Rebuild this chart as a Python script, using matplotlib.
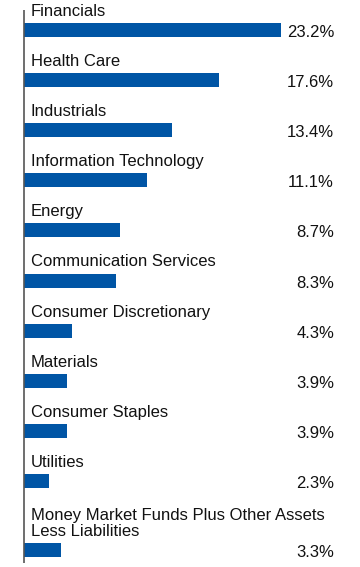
import numpy as np
import matplotlib.pyplot as plt

plt.rcParams['font.family'] = ['Liberation Sans', 'DejaVu Sans']

sectors = ["Financials", "Health Care", "Industrials", "Information Technology",
           "Energy", "Communication Services", "Consumer Discretionary",
           "Materials", "Consumer Staples", "Utilities",
           "Money Market Funds Plus Other Assets\nLess Liabilities"]
weights = [23.2, 17.6, 13.4, 11.1, 8.7, 8.3, 4.3, 3.9, 3.9, 2.3, 3.3]
value_labels = ["23.2%", "17.6%", "13.4%", "11.1%", "8.7%", "8.3%",
                "4.3%", "3.9%", "3.9%", "2.3%", "3.3%"]

bar_color = "#0055a5"
fs = 12

fig = plt.figure(figsize=(3.6, 5.67), dpi=100)
ax = fig.add_axes([0, 0, 1, 1])

# y in pixel-like units, x in percent
ppu = 257 / 23.2
ax.set_xlim(-24 / ppu, 336 / ppu)
ax.set_ylim(567, 0)

pos = np.arange(len(sectors)) * 50.1 + 30
pos[-1] += 19

ax.barh(pos, weights, height=14, color=bar_color, left=0)
for p, name, lab in zip(pos, sectors, value_labels):
    ax.text(7 / ppu, p - 14, name, fontsize=fs, ha='left', va='baseline',
            color='#111111', linespacing=1.1)
    ax.text(310 / ppu, p + 7, lab, fontsize=fs, ha='right', va='baseline',
            color='#111111')

ax.vlines(0, 10, 563, color='#555555', linewidth=1.2)
ax.axis('off')

fig.savefig("out.png", dpi=100)
